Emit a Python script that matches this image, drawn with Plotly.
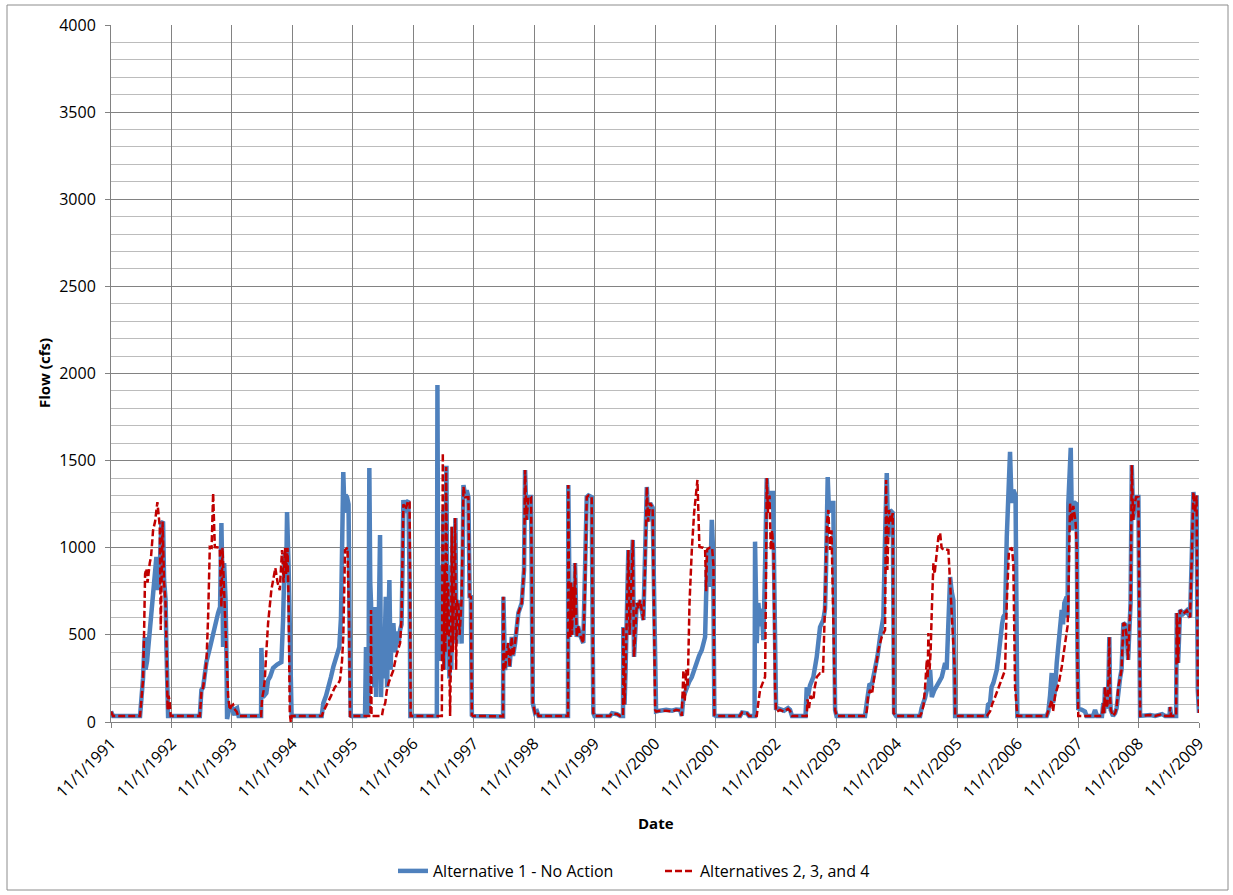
import datetime as dt
import plotly.graph_objects as go

# ---- data (decimal years, flow in cfs) ----
alt1_year = [
    1991.833, 1991.866, 1992.313, 1992.334, 1992.362, 1992.391, 1992.404, 1992.429, 1992.500, 1992.544,
    1992.583, 1992.611, 1992.635, 1992.665, 1992.693, 1992.710, 1992.735, 1992.748, 1992.764, 1992.776,
    1993.301, 1993.327, 1993.356, 1993.410, 1993.471, 1993.521, 1993.570, 1993.603, 1993.636, 1993.658,
    1993.675, 1993.686, 1993.703, 1993.727, 1993.741, 1993.752, 1993.777, 1993.802, 1993.827, 1993.852,
    1993.877, 1993.893, 1993.918, 1993.943,
    1994.315, 1994.320, 1994.331, 1994.348, 1994.402, 1994.431, 1994.464, 1994.513, 1994.580, 1994.651,
    1994.679, 1994.707, 1994.729, 1994.745, 1994.770, 1994.787, 1994.807, 1994.820,
    1995.319, 1995.346, 1995.390, 1995.428, 1995.473, 1995.511, 1995.556, 1995.610, 1995.638, 1995.663,
    1995.676, 1995.696, 1995.713, 1995.738, 1995.763, 1995.779, 1995.799, 1995.820,
    1996.036, 1996.052, 1996.074, 1996.093, 1996.107, 1996.122, 1996.135, 1996.151, 1996.168, 1996.184,
    1996.201, 1996.218, 1996.234, 1996.251, 1996.267, 1996.284, 1996.300, 1996.325, 1996.350, 1996.378,
    1996.400, 1996.416, 1996.438, 1996.458, 1996.474, 1996.504, 1996.532, 1996.565, 1996.590, 1996.615,
    1996.639, 1996.656, 1996.669, 1996.697, 1996.722, 1996.752, 1996.772, 1996.785,
    1997.222, 1997.232, 1997.248, 1997.268, 1997.285, 1997.301, 1997.318, 1997.331, 1997.347, 1997.364,
    1997.381, 1997.397, 1997.414, 1997.430, 1997.447, 1997.463, 1997.480, 1997.497, 1997.513, 1997.530,
    1997.546, 1997.566, 1997.591, 1997.616, 1997.632, 1997.649, 1997.663, 1997.691, 1997.716, 1997.745,
    1997.765, 1997.785, 1997.802, 1997.823,
    1998.319, 1998.324, 1998.335, 1998.352, 1998.377, 1998.406, 1998.426, 1998.463, 1998.484, 1998.517,
    1998.572, 1998.628, 1998.666, 1998.683, 1998.708, 1998.738, 1998.782, 1998.810, 1998.848, 1998.881,
    1998.906,
    1999.394, 1999.399, 1999.411, 1999.427, 1999.444, 1999.460, 1999.482, 1999.494, 1999.510, 1999.527,
    1999.538, 1999.560, 1999.593, 1999.647, 1999.676, 1999.704, 1999.733, 1999.786, 1999.800, 1999.813,
    1999.833,
    2000.089, 2000.122, 2000.205, 2000.255, 2000.304, 2000.309, 2000.329, 2000.346, 2000.370, 2000.392,
    2000.412, 2000.437, 2000.465, 2000.486, 2000.531, 2000.561, 2000.586, 2000.640, 2000.668, 2000.697,
    2000.718, 2000.751, 2000.793, 2000.817, 2000.834,
    2000.850, 2000.916, 2001.016, 2001.115, 2001.181, 2001.247, 2001.275, 2001.302, 2001.358, 2001.396,
    2001.441, 2001.479, 2001.523, 2001.561, 2001.606, 2001.636, 2001.661, 2001.689, 2001.716, 2001.744,
    2001.772, 2001.793, 2001.815, 2001.843,
    2002.240, 2002.273, 2002.356, 2002.389, 2002.480, 2002.488, 2002.516, 2002.543, 2002.571, 2002.599,
    2002.626, 2002.654, 2002.682, 2002.703, 2002.736, 2002.786, 2002.819, 2002.836,
    2002.852, 2002.902, 2002.968, 2003.034, 2003.067, 2003.100, 2003.324, 2003.344, 2003.365, 2003.398,
    2003.453, 2003.509, 2003.564, 2003.618, 2003.647, 2003.663, 2003.691, 2003.713, 2003.729, 2003.784,
    2003.799, 2003.813, 2003.837,
    2004.308, 2004.336, 2004.358, 2004.379, 2004.424, 2004.474, 2004.515, 2004.556, 2004.611, 2004.639,
    2004.667, 2004.689, 2004.722, 2004.766, 2004.788, 2004.821,
    2005.218, 2005.243, 2005.273, 2005.301, 2005.329, 2005.355, 2005.384, 2005.412, 2005.450, 2005.494,
    2005.533, 2005.577, 2005.607, 2005.632, 2005.657, 2005.686, 2005.715, 2005.740, 2005.769, 2005.784,
    2005.798,
    2006.322, 2006.343, 2006.376, 2006.401, 2006.431, 2006.459, 2006.487, 2006.517, 2006.542, 2006.575,
    2006.596, 2006.625, 2006.653, 2006.682, 2006.707, 2006.732, 2006.762, 2006.798, 2006.815, 2006.828,
    2007.314, 2007.341, 2007.369, 2007.397, 2007.419, 2007.452, 2007.480, 2007.510, 2007.535, 2007.563,
    2007.584, 2007.606, 2007.645, 2007.659, 2007.672, 2007.692, 2007.712, 2007.733, 2007.758, 2007.783,
    2007.811, 2007.824, 2007.837,
    2007.849, 2007.898, 2007.948, 2007.973, 2008.081, 2008.114, 2008.147, 2008.229, 2008.251, 2008.263,
    2008.279, 2008.296, 2008.320, 2008.337, 2008.350, 2008.362, 2008.373, 2008.411, 2008.445, 2008.470,
    2008.499, 2008.527, 2008.552, 2008.582, 2008.610, 2008.638, 2008.660, 2008.676, 2008.701, 2008.721,
    2008.743, 2008.767, 2008.792, 2008.830, 2008.849,
    2008.858, 2009.024, 2009.106, 2009.222, 2009.272, 2009.346, 2009.354, 2009.371, 2009.454, 2009.465,
    2009.487, 2009.520, 2009.570, 2009.631, 2009.685, 2009.713, 2009.740, 2009.768, 2009.793, 2009.813,
    2009.826, 2009.833,
]
alt1_flow = [
    60, 35, 35, 126, 250, 488, 300, 350, 625, 780,
    947, 757, 850, 1142, 1150, 815, 700, 430, 52, 35,
    35, 184, 200, 345, 430, 510, 560, 625, 660, 1142,
    800, 430, 912, 700, 400, 17, 60, 80, 90, 60,
    40, 75, 80, 35,
    35, 425, 200, 143, 166, 240, 260, 310, 330, 344,
    585, 970, 800, 1205, 900, 600, 69, 35,
    35, 109, 150, 195, 260, 316, 370, 430, 600, 1000,
    1435, 1200, 1303, 1290, 1250, 600, 29, 35,
    35, 430, 35, 100, 1457, 800, 683, 300, 600, 200,
    660, 143, 450, 300, 700, 1073, 143, 500, 250, 718,
    200, 500, 815, 300, 500, 568, 400, 520, 450, 528,
    560, 900, 1274, 1200, 1260, 1270, 800, 35,
    35, 1934, 396, 700, 350, 900, 400, 1217, 300, 800,
    1470, 400, 900, 250, 700, 300, 1120, 500, 700, 1170,
    450, 700, 550, 650, 450, 900, 1360, 1300, 1330, 1291,
    720, 718, 40, 35,
    32, 719, 300, 298, 400, 453, 316, 488, 380, 450,
    625, 683, 872, 1446, 1160, 1291, 1291, 109, 52, 60,
    35,
    35, 1360, 700, 488, 800, 500, 775, 600, 912, 600,
    488, 550, 500, 453, 775, 1291, 1300, 1291, 600, 52,
    35,
    35, 50, 45, 35, 35, 545, 100, 300, 600, 987,
    500, 800, 1045, 373, 683, 650, 700, 585, 890, 1349,
    1150, 1257, 1230, 600, 69,
    60, 65, 70, 65, 72, 70, 35, 143, 201, 230,
    258, 300, 339, 380, 413, 450, 488, 872, 990, 775,
    1160, 987, 40, 35,
    35, 55, 50, 35, 35, 1035, 453, 683, 550, 650,
    470, 900, 1400, 1250, 1314, 1314, 200, 69,
    80, 75, 65, 80, 70, 35, 35, 201, 150, 210,
    258, 373, 545, 585, 650, 872, 1406, 1200, 1257, 1257,
    600, 69, 35,
    35, 109, 150, 212, 220, 298, 380, 488, 603, 1062,
    1429, 1062, 1217, 1200, 52, 35,
    35, 80, 109, 140, 184, 200, 298, 143, 180, 201,
    230, 258, 300, 339, 300, 528, 832, 750, 700, 400,
    35,
    35, 100, 109, 200, 224, 260, 298, 380, 488, 560,
    603, 620, 1062, 1300, 1550, 1257, 1332, 1300, 600, 35,
    35, 60, 150, 281, 109, 184, 339, 450, 603, 643,
    560, 683, 718, 600, 1257, 1400, 1573, 1100, 1250, 1257,
    1250, 400, 69,
    75, 70, 60, 35, 35, 69, 35, 35, 109, 50,
    201, 80, 100, 250, 488, 150, 69, 35, 50, 80,
    201, 250, 300, 568, 560, 488, 356, 500, 683, 1475,
    1160, 1250, 1291, 1291, 35,
    35, 40, 35, 45, 35, 35, 86, 35, 35, 625,
    339, 643, 620, 640, 600, 947, 1320, 1200, 1300, 184,
    52, 52,
]

alt234_year = [
    1991.833, 1991.866, 1992.313, 1992.338, 1992.362, 1992.379, 1992.396, 1992.417, 1992.437, 1992.473,
    1992.495, 1992.528, 1992.561, 1992.599, 1992.619, 1992.639, 1992.655, 1992.669, 1992.685, 1992.710,
    1992.732, 1992.751, 1992.768, 1992.784, 1992.801, 1992.818,
    1993.301, 1993.327, 1993.356, 1993.410, 1993.438, 1993.466, 1993.496, 1993.521, 1993.549, 1993.631,
    1993.658, 1993.676, 1993.703, 1993.719, 1993.744, 1993.769, 1993.797, 1993.819, 1993.852, 1993.885,
    1993.910, 1993.935,
    1994.315, 1994.331, 1994.356, 1994.376, 1994.398, 1994.431, 1994.485, 1994.522, 1994.551, 1994.588,
    1994.624, 1994.662, 1994.687, 1994.712, 1994.729, 1994.753, 1994.770, 1994.790, 1994.807, 1994.823,
    1995.319, 1995.346, 1995.428, 1995.473, 1995.539, 1995.589, 1995.622, 1995.655, 1995.676, 1995.705,
    1995.746, 1995.771, 1995.788, 1995.804,
    1996.036, 1996.127, 1996.135, 1996.143, 1996.315, 1996.337, 1996.370, 1996.395, 1996.425, 1996.469,
    1996.504, 1996.552, 1996.585, 1996.615, 1996.639, 1996.669, 1996.706, 1996.747, 1996.772, 1996.789,
    1997.222, 1997.305, 1997.321, 1997.335, 1997.352, 1997.364, 1997.377, 1997.394, 1997.410, 1997.427,
    1997.442, 1997.459, 1997.470, 1997.487, 1997.503, 1997.525, 1997.541, 1997.558, 1997.579, 1997.599,
    1997.616, 1997.632, 1997.663, 1997.691, 1997.745, 1997.765, 1997.785, 1997.802, 1997.823,
    1998.319, 1998.324, 1998.335, 1998.352, 1998.377, 1998.406, 1998.426, 1998.463, 1998.484, 1998.517,
    1998.572, 1998.628, 1998.666, 1998.683, 1998.708, 1998.738, 1998.782, 1998.810, 1998.848, 1998.881,
    1998.906,
    1999.394, 1999.399, 1999.411, 1999.427, 1999.444, 1999.460, 1999.482, 1999.494, 1999.510, 1999.527,
    1999.538, 1999.560, 1999.593, 1999.647, 1999.676, 1999.704, 1999.733, 1999.786, 1999.800, 1999.813,
    1999.833,
    2000.089, 2000.122, 2000.205, 2000.255, 2000.304, 2000.309, 2000.329, 2000.346, 2000.370, 2000.392,
    2000.412, 2000.437, 2000.465, 2000.486, 2000.531, 2000.561, 2000.586, 2000.640, 2000.668, 2000.697,
    2000.718, 2000.751, 2000.793, 2000.817, 2000.834,
    2000.850, 2000.916, 2001.016, 2001.115, 2001.181, 2001.247, 2001.275, 2001.289, 2001.302, 2001.324,
    2001.349, 2001.373, 2001.403, 2001.441, 2001.479, 2001.534, 2001.567, 2001.628, 2001.661, 2001.678,
    2001.694, 2001.736, 2001.777, 2001.799, 2001.815, 2001.843,
    2002.240, 2002.273, 2002.356, 2002.389, 2002.516, 2002.538, 2002.571, 2002.621, 2002.654, 2002.667,
    2002.682, 2002.703, 2002.728, 2002.748, 2002.769, 2002.794, 2002.819, 2002.836,
    2002.852, 2002.902, 2002.968, 2003.034, 2003.067, 2003.100, 2003.344, 2003.357, 2003.382, 2003.406,
    2003.453, 2003.477, 2003.509, 2003.564, 2003.613, 2003.647, 2003.663, 2003.680, 2003.701, 2003.729,
    2003.754, 2003.779, 2003.796, 2003.813, 2003.837,
    2004.308, 2004.336, 2004.358, 2004.391, 2004.424, 2004.457, 2004.502, 2004.532, 2004.584, 2004.639,
    2004.656, 2004.677, 2004.705, 2004.738, 2004.766, 2004.780, 2004.821,
    2005.218, 2005.251, 2005.276, 2005.301, 2005.329, 2005.343, 2005.355, 2005.375, 2005.392, 2005.412,
    2005.438, 2005.458, 2005.483, 2005.521, 2005.549, 2005.574, 2005.604, 2005.648, 2005.686, 2005.715,
    2005.740, 2005.769, 2005.791, 2005.798,
    2006.322, 2006.376, 2006.409, 2006.459, 2006.500, 2006.542, 2006.583, 2006.625, 2006.653, 2006.689,
    2006.740, 2006.762, 2006.790, 2006.815, 2006.828,
    2007.314, 2007.340, 2007.369, 2007.397, 2007.419, 2007.452, 2007.480, 2007.518, 2007.563, 2007.601,
    2007.634, 2007.659, 2007.672, 2007.687, 2007.700, 2007.728, 2007.755, 2007.791, 2007.811, 2007.824,
    2007.837,
    2008.229, 2008.251, 2008.263, 2008.279, 2008.296, 2008.320, 2008.337, 2008.350, 2008.362, 2008.373,
    2008.411, 2008.445, 2008.470, 2008.499, 2008.527, 2008.552, 2008.582, 2008.610, 2008.638, 2008.660,
    2008.676, 2008.701, 2008.721, 2008.743, 2008.767, 2008.792, 2008.830, 2008.849,
    2008.858, 2009.024, 2009.106, 2009.222, 2009.272, 2009.346, 2009.354, 2009.371, 2009.454, 2009.465,
    2009.487, 2009.520, 2009.570, 2009.631, 2009.685, 2009.713, 2009.740, 2009.768, 2009.793, 2009.813,
    2009.826, 2009.833,
]
alt234_flow = [
    60, 35, 35, 130, 240, 500, 850, 880, 800, 912,
    950, 1100, 1150, 1262, 1200, 1120, 528, 1000, 1150, 800,
    700, 430, 69, 150, 120, 35,
    35, 170, 200, 345, 600, 1004, 1000, 1314, 1004, 1000,
    660, 1000, 780, 650, 430, 150, 69, 90, 100, 70,
    60, 35,
    35, 130, 180, 240, 380, 568, 757, 830, 884, 800,
    757, 987, 800, 1000, 850, 1000, 700, 52, 0, 35,
    35, 60, 115, 150, 201, 220, 240, 350, 488, 987,
    1000, 600, 29, 35,
    35, 35, 643, 35, 35, 80, 109, 180, 224, 260,
    298, 380, 420, 453, 600, 1250, 1220, 1270, 1260, 35,
    35, 35, 1544, 298, 900, 400, 1464, 500, 800, 250,
    35, 500, 1120, 400, 800, 1170, 300, 700, 683, 500,
    600, 700, 1350, 1290, 1291, 720, 718, 40, 35,
    32, 719, 300, 298, 400, 453, 316, 488, 380, 450,
    625, 683, 872, 1446, 1160, 1291, 1291, 109, 52, 60,
    35,
    35, 1360, 700, 488, 800, 500, 775, 600, 912, 600,
    488, 550, 500, 453, 775, 1291, 1300, 1291, 600, 52,
    35,
    35, 50, 45, 35, 35, 545, 100, 300, 600, 987,
    500, 800, 1045, 373, 683, 650, 700, 585, 890, 1349,
    1150, 1257, 1230, 600, 69,
    60, 65, 65, 60, 70, 65, 35, 200, 298, 120,
    300, 200, 683, 987, 1200, 1389, 1004, 1000, 990, 750,
    990, 1000, 1000, 900, 40, 35,
    35, 55, 50, 35, 35, 100, 184, 230, 258, 700,
    1400, 1200, 1300, 987, 1100, 990, 200, 60,
    60, 70, 60, 75, 65, 35, 35, 130, 80, 150,
    126, 200, 258, 280, 280, 683, 1000, 1150, 1217, 987,
    1100, 700, 500, 69, 35,
    35, 60, 150, 184, 160, 250, 356, 420, 488, 528,
    1389, 872, 1217, 1150, 1200, 52, 35,
    35, 60, 100, 201, 356, 250, 511, 300, 400, 643,
    912, 850, 947, 1062, 1085, 1000, 987, 990, 987, 800,
    700, 488, 300, 35,
    35, 60, 100, 143, 180, 224, 260, 298, 683, 987,
    1000, 900, 201, 60, 35,
    35, 60, 100, 126, 60, 150, 184, 230, 316, 400,
    488, 550, 683, 1000, 1257, 1150, 1240, 1150, 1000, 300,
    35,
    35, 109, 50, 201, 80, 100, 250, 488, 150, 69,
    35, 50, 80, 201, 250, 300, 568, 560, 488, 356,
    500, 683, 1475, 1160, 1250, 1291, 1291, 35,
    35, 40, 35, 45, 35, 35, 86, 35, 35, 625,
    339, 643, 620, 640, 600, 947, 1320, 1200, 1300, 184,
    52, 52,
]

tick_years = list(range(1991, 2010))
tick_labels = [f"11/1/{y}" for y in tick_years]

series_names = ["Alternative 1 - No Action", "Alternatives 2, 3, and 4"]


def to_date(y):
    yr = int(y)
    frac = y - yr
    start = dt.datetime(yr, 1, 1)
    days = (dt.datetime(yr + 1, 1, 1) - start).days
    return start + dt.timedelta(days=frac * days)


FONT = "Open Sans"
GRID_MAJOR = "#828282"
GRID_MINOR = "#bcbcbc"

fig = go.Figure()
fig.add_trace(go.Scatter(
    x=[to_date(v) for v in alt1_year], y=alt1_flow, mode="lines",
    name=series_names[0], line=dict(color="#4F81BD", width=4.5),
))
fig.add_trace(go.Scatter(
    x=[to_date(v) for v in alt234_year], y=alt234_flow, mode="lines",
    name=series_names[1], line=dict(color="#C00000", width=2.5, dash="7px,3px"),
))

# body margin is removed by the post script, so page px == figure px
W, H = 1233, 895
L, T = 111, 25
pw, ph = 1088, 697
R, B = W - L - pw, H - T - ph


def px(xp):
    return (xp - L) / pw


def py(yp):
    return (T + ph - yp) / ph


fig.update_layout(
    width=W, height=H,
    margin=dict(l=L, r=R, t=T, b=B, autoexpand=False),
    paper_bgcolor="white", plot_bgcolor="white",
    font=dict(family=FONT, size=16, color="black"),
    showlegend=True,
    legend=dict(orientation="h", x=px(660), xanchor="center",
                y=py(871), yanchor="middle", entrywidth=222,
                font=dict(size=16), traceorder="normal"),
    xaxis=dict(
        type="date",
        range=[dt.datetime(1991, 11, 1), dt.datetime(2009, 11, 1)],
        tickvals=[dt.datetime(y, 11, 1) for y in tick_years],
        ticktext=tick_labels,
        tickangle=-45,
        ticks="outside", ticklen=5, tickcolor=GRID_MAJOR,
        showline=True, linecolor=GRID_MAJOR, linewidth=1,
        showgrid=True, gridcolor=GRID_MAJOR, gridwidth=1,
        zeroline=False,
        tickfont=dict(size=16),
    ),
    yaxis=dict(
        range=[0, 4000], dtick=500, tick0=0,
        ticks="outside", ticklen=5, tickcolor=GRID_MAJOR,
        showline=True, linecolor=GRID_MAJOR, linewidth=1,
        showgrid=True, gridcolor=GRID_MAJOR, gridwidth=1,
        zeroline=False,
        ticklabelstandoff=6,
        minor=dict(dtick=100, showgrid=True, gridcolor=GRID_MINOR, gridwidth=1),
        tickfont=dict(size=16),
    ),
    annotations=[
        dict(text="<b>Flow (cfs)</b>", xref="paper", yref="paper",
             x=px(44), y=py(373), textangle=-90, showarrow=False,
             font=dict(size=15), xanchor="center", yanchor="middle"),
        dict(text="<b>Date</b>", xref="paper", yref="paper",
             x=px(656), y=py(823), showarrow=False,
             font=dict(size=15), xanchor="center", yanchor="middle"),
    ],
    shapes=[
        dict(type="rect", xref="paper", yref="paper",
             x0=px(7), x1=px(1228), y0=py(890), y1=py(5),
             line=dict(color="#8c8c8c", width=1), fillcolor="rgba(0,0,0,0)",
             layer="below"),
    ],
)

fig.write_html("out.html", config={"displayModeBar": False},
               post_script="document.body.style.margin='0px';")
